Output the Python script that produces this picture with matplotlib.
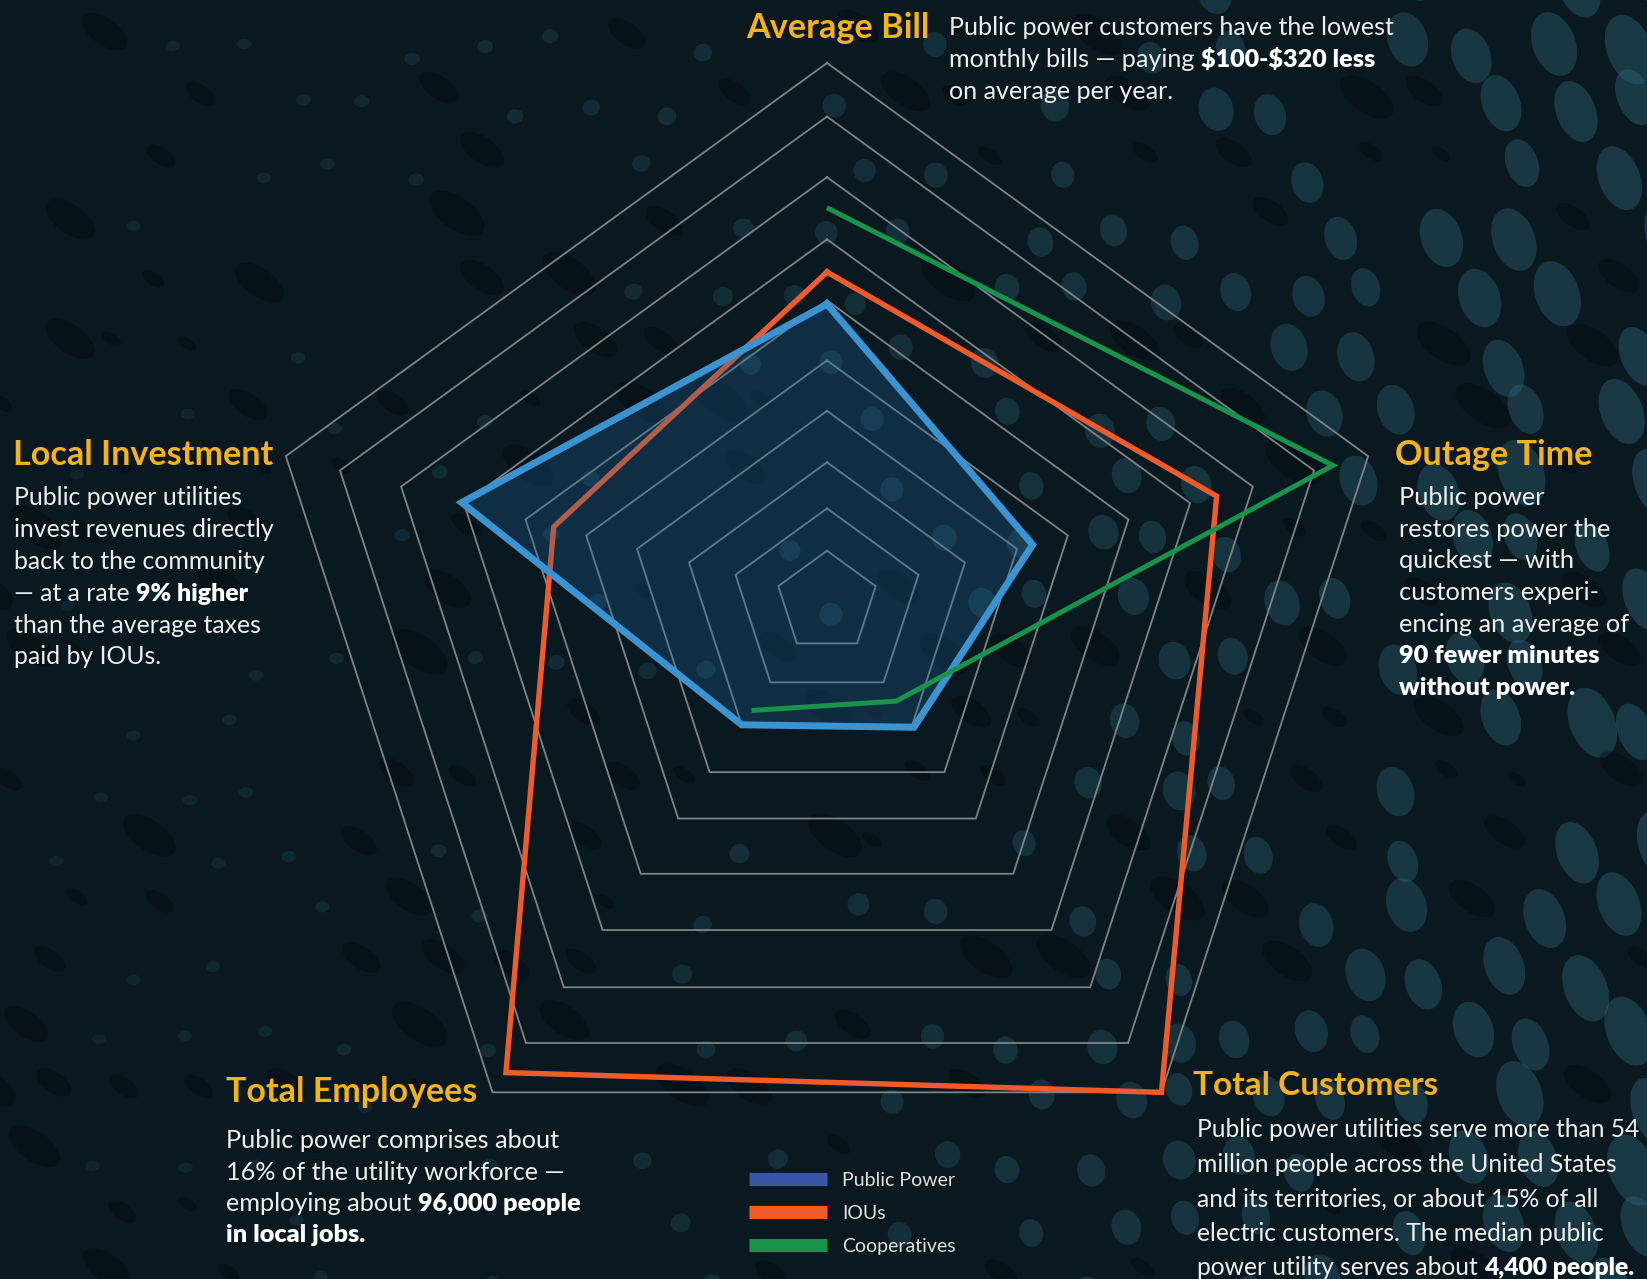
import numpy as np
import matplotlib
matplotlib.use('Agg')
import matplotlib.pyplot as plt
from matplotlib.patches import Ellipse
from matplotlib.lines import Line2D


# radar values, outer ring = 100
categories = ['Average Bill', 'Outage Time', 'Total Customers', 'Total Employees', 'Local Investment']
public_power = [55, 38, 26, 25.5, 67.5]
ious = [61, 72, 100, 96, 50.5]
cooperatives = [73, 93.5, 20.7, 22.6]   # no Local Investment value
grid_levels = [9, 16.9, 25.5, 35.1, 44.5, 55.7, 67.1, 78.7, 90, 100]
series_names = ['Public Power', 'IOUs', 'Cooperatives']

W, H = 1647, 1279
CX, CY, S = 827, 599, 5.69   # radar centre (px) and px per unit
SKEW = 0.058                 # rings drift downward as they grow

BG = '#0a1820'
BLUE = '#3b93d1'
ORANGE = '#f15a29'
GREEN = '#17934a'
LEG_BLUE = '#3955a5'
GOLD = '#f6b319'
GRID = '#7d8487'
TXT = '#eeeeee'
FONT = 'Lato'

angles = np.deg2rad(np.arange(len(categories)) * 72)


def radar_xy(vals, close=True):
    r = np.asarray(vals, float)
    th = angles[:len(r)]
    x = r * np.sin(th)
    y = r * (np.cos(th) - SKEW)
    if close:
        x = np.append(x, x[0])
        y = np.append(y, y[0])
    return x, y


fig = plt.figure(figsize=(W / 100, H / 100), dpi=100, facecolor=BG)

# background texture
bg = fig.add_axes([0, 0, 1, 1])
bg.set_xlim(0, W)
bg.set_ylim(H, 0)
bg.axis('off')
for j, yy in enumerate(np.arange(-20, H + 60, 62)):
    for i, xx in enumerate(np.arange(-20, W + 60, 76)):
        h = (np.sin(i * 12.9898 + j * 78.233) * 43758.5453) % 1
        g = (np.sin(i * 39.346 + j * 11.135) * 24634.6345) % 1
        t = xx / W
        px = xx + (j % 2) * 38 + (h - 0.5) * 44
        py = yy + (g - 0.5) * 34
        if g < 0.3:
            w = 20 + 45 * h
            bg.add_patch(Ellipse((px, py), w, w * 0.5, angle=35, color='#02090c', alpha=0.4, lw=0))
        elif t < 0.6 and h < 0.45:
            continue
        else:
            big = 12 + 64 * t ** 2.2 * (0.6 + 0.4 * h)
            bg.add_patch(Ellipse((px, py), big * (1.2 - 0.55 * t), big * (0.8 + 0.3 * t),
                                 angle=-22 * t, color='#2c6576', alpha=0.16 + 0.28 * t, lw=0))

# radar
ax = fig.add_axes([0, 0, 1, 1])
ax.set_xlim(-CX / S, (W - CX) / S)
ax.set_ylim(-(H - CY) / S, CY / S)
ax.axis('off')
ax.patch.set_alpha(0)

for lev in grid_levels:
    gx, gy = radar_xy([lev] * len(categories))
    ax.plot(gx, gy, color=GRID, lw=1.3, zorder=1, solid_joinstyle='miter')

ox, oy = radar_xy(ious)
ax.plot(ox, oy, color=ORANGE, lw=3.9, zorder=2, solid_joinstyle='miter')
bx, by = radar_xy(public_power)
ax.fill(bx, by, color='#1e6496', alpha=0.3, lw=0, zorder=3)
ax.plot(bx, by, color=BLUE, lw=5, zorder=4, solid_joinstyle='miter')
cx_, cy_ = radar_xy(cooperatives, close=False)
ax.plot(cx_, cy_, color=GREEN, lw=3.6, zorder=5, solid_joinstyle='miter', solid_capstyle='butt')

# legend
handles = [Line2D([0], [0], color=c, lw=9.5, solid_capstyle='butt') for c in (LEG_BLUE, ORANGE, GREEN)]
fig.legend(handles, series_names, loc='upper left', bbox_to_anchor=(749 / W, 1 - 1172 / H),
           frameon=False, handlelength=4.0, handletextpad=0.8, labelspacing=0.82,
           borderpad=0, borderaxespad=0, labelcolor='#e2e2e2', prop={'family': FONT, 'size': 14})

# text blocks
renderer = fig.canvas.get_renderer()


def fit(text, target, weight='normal'):
    t = fig.text(0, 0, text, fontsize=20, fontweight=weight, family=FONT, parse_math=False)
    w = t.get_window_extent(renderer).width
    t.remove()
    return 20 * target / w


def rich(x, y, parts, size):
    for s, bold in parts:
        t = fig.text(x / W, 1 - y / H, s, fontsize=size, fontweight='heavy' if bold else 'normal',
                     color='white' if bold else TXT, family=FONT, va='baseline', ha='left',
                     parse_math=False)
        x += t.get_window_extent(renderer).width


def block(title, tx, ty, twidth, lines, bx0, base, step, ref_line, ref_w):
    fig.text(tx / W, 1 - ty / H, title, fontsize=fit(title, twidth, 'bold'), fontweight='bold',
             color=GOLD, family=FONT, va='baseline', ha='left')
    size = fit(ref_line, ref_w)
    for k, parts in enumerate(lines):
        rich(bx0, base + k * step, parts, size)


block('Average Bill', 746, 38, 183,
      [[('Public power customers have the lowest', False)],
       [('monthly bills — paying ', False), ('$100-$320 less', True)],
       [('on average per year.', False)]],
      949, 35, 32, 'Public power customers have the lowest', 448)

block('Local Investment', 13, 465, 260,
      [[('Public power utilities', False)],
       [('invest revenues directly', False)],
       [('back to the community', False)],
       [('— at a rate ', False), ('9% higher', True)],
       [('than the average taxes', False)],
       [('paid by IOUs.', False)]],
      14, 505, 31.9, 'invest revenues directly', 261)

block('Outage Time', 1395, 465, 197,
      [[('Public power', False)],
       [('restores power the', False)],
       [('quickest — with', False)],
       [('customers experi-', False)],
       [('encing an average of', False)],
       [('90 fewer minutes', True)],
       [('without power.', True)]],
      1399, 505, 31.7, 'encing an average of', 231)

block('Total Employees', 226, 1102, 251,
      [[('Public power comprises about', False)],
       [('16% of the utility workforce —', False)],
       [('employing about ', False), ('96,000 people', True)],
       [('in local jobs.', True)]],
      226, 1148, 31.5, 'Public power comprises about', 335)

block('Total Customers', 1193, 1095, 245,
      [[('Public power utilities serve more than 54', False)],
       [('million people across the United States', False)],
       [('and its territories, or about 15% of all', False)],
       [('electric customers. The median public', False)],
       [('power utility serves about ', False), ('4,400 people.', True)]],
      1197, 1137, 34.6, 'Public power utilities serve more than 54', 445)

fig.savefig('out.png', dpi=100, facecolor=BG)
